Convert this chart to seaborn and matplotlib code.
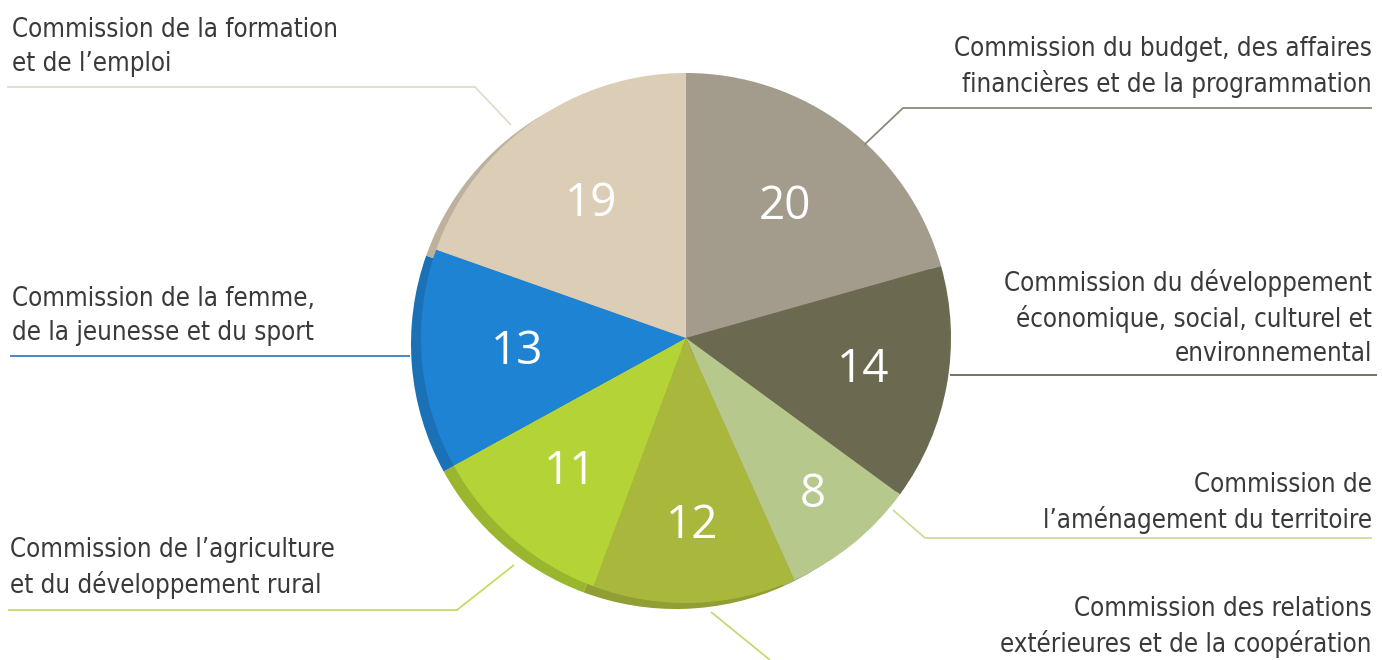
import matplotlib.pyplot as plt
import seaborn as sns
import numpy as np

# Commission sizes, clockwise from 12 o'clock
commissions = [
    "Commission du budget, des affaires\nfinancières et de la programmation",
    "Commission du développement\néconomique, social, culturel et\nenvironnemental",
    "Commission de\nl’aménagement du territoire",
    "Commission des relations\nextérieures et de la coopération",
    "Commission de l’agriculture\net du développement rural",
    "Commission de la femme,\nde la jeunesse et du sport",
    "Commission de la formation\net de l’emploi",
]
members = [20, 14, 8, 12, 11, 13, 19]
slice_colors = ["#a39c8c", "#6c6951", "#b7c88c", "#a9b83c", "#b3d336", "#1f83d4", "#dccdb7"]
line_colors = ["#8f897b", "#6c6951", "#cddc9c", "#c8d870", "#c4dc60", "#3a7fc0", "#e3dccb"]

sns.set_theme(style="white")
plt.rcParams["font.family"] = ["DejaVu Sans"]

W, H = 1382, 660
fig = plt.figure(figsize=(W / 100, H / 100), dpi=100)
ax = fig.add_axes([0, 0, 1, 1])

def Y(y):
    return H - y

cx, cy, r = 686, 338, 265

# darker rim behind the pie (pseudo 3D edge)
shadow = [tuple(np.array(c) * 0.86) for c in sns.color_palette(slice_colors)]
ax.pie(members, colors=shadow, startangle=90, counterclock=False,
       center=(cx - 10, Y(cy) - 6), radius=r, wedgeprops=dict(linewidth=0))
wedges, _ = ax.pie(members, colors=sns.color_palette(slice_colors), startangle=90,
                   counterclock=False, center=(cx, Y(cy)), radius=r,
                   wedgeprops=dict(linewidth=0))

# value labels inside the slices
label_frac = [0.62, 0.68, 0.76, 0.71, 0.67, 0.64, 0.62]
for w, v, f in zip(wedges, members, label_frac):
    ang = np.deg2rad((w.theta1 + w.theta2) / 2)
    ax.text(cx + f * r * np.cos(ang), Y(cy) + f * r * np.sin(ang), str(v),
            color="white", fontsize=33, ha="center", va="center",
            family=["Open Sans", "DejaVu Sans"])

# commission names
txt = dict(fontsize=18.5, color="#3a3a3a", linespacing=1.38, fontstretch="condensed")
ax.text(1372, Y(67), commissions[0], ha="right", va="center", **txt)
ax.text(1372, Y(318), commissions[1], ha="right", va="center", **txt)
ax.text(1372, Y(503), commissions[2], ha="right", va="center", **txt)
ax.text(1372, Y(627), commissions[3], ha="right", va="center", **txt)
ax.text(10, Y(568), commissions[4], ha="left", va="center", **txt)
ax.text(12, Y(316), commissions[5], ha="left", va="center", **txt)
ax.text(12, Y(47), commissions[6], ha="left", va="center", **txt)

# leader lines
leaders = [
    [(864, 145), (903, 108), (1372, 108)],
    [(950, 375), (1377, 375)],
    [(893, 510), (925, 538), (1372, 538)],
    [(711, 612), (770, 660)],
    [(514, 565), (457, 610), (8, 610)],
    [(410, 356), (10, 356)],
    [(511, 125), (475, 87), (7, 87)],
]
for pts, c in zip(leaders, line_colors):
    xs = [p[0] for p in pts]
    ys = [Y(p[1]) for p in pts]
    ax.plot(xs, ys, color=c, lw=1.3, solid_capstyle="butt")

ax.set_xlim(0, W)
ax.set_ylim(0, H)
ax.set_aspect("auto")
ax.axis("off")

fig.savefig("out.png", dpi=100, facecolor="white")
